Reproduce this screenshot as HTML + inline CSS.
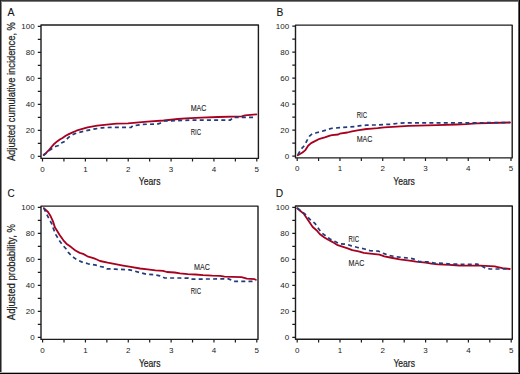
<!DOCTYPE html><html><head><meta charset="utf-8"><style>html,body{margin:0;padding:0;background:#fff;}svg{display:block;}</style></head><body>
<svg width="520" height="374" viewBox="0 0 520 374" font-family='"Liberation Sans", sans-serif'>
<style>text{stroke:#222;stroke-width:0.22px;stroke-linejoin:round;} text.t{stroke:none;} text.l{stroke-width:0.1px;}</style>
<rect x="0" y="0" width="520" height="374" fill="#fff"/>
<g shape-rendering="crispEdges">
<rect x="0" y="0" width="520" height="1" fill="#383838"/>
<rect x="0" y="1" width="520" height="1" fill="#7a7a7a"/>
<rect x="0" y="0" width="1" height="374" fill="#222"/>
<rect x="1" y="1" width="1" height="373" fill="#8a8a8a"/>
<rect x="518" y="0" width="1" height="374" fill="#5a5a5a"/>
<rect x="519" y="0" width="1" height="374" fill="#000"/>
<rect x="0" y="372" width="519" height="1" fill="#b0b0b0"/>
<rect x="0" y="373" width="520" height="1" fill="#000"/>
</g>
<path d="M41.0,158.4 L41.0,25.0 L258.4,25.0 L258.4,158.4 Z" fill="none" stroke="#1c1c1c" stroke-width="1.4" stroke-linejoin="round"/>
<path d="M37.8,156.30H41.0M37.8,143.30H41.0M37.8,130.30H41.0M37.8,117.30H41.0M37.8,104.30H41.0M37.8,91.30H41.0M37.8,78.30H41.0M37.8,65.30H41.0M37.8,52.30H41.0M37.8,39.30H41.0M37.8,26.30H41.0M42.50,158.4V161.6M63.93,158.4V161.6M85.36,158.4V161.6M106.79,158.4V161.6M128.22,158.4V161.6M149.65,158.4V161.6M171.08,158.4V161.6M192.51,158.4V161.6M213.94,158.4V161.6M235.37,158.4V161.6M256.80,158.4V161.6" stroke="#1c1c1c" stroke-width="1.2" fill="none"/>
<text x="34.7" y="159.05" font-size="8.0" text-anchor="end" fill="#222" class="t">0</text>
<text x="34.7" y="133.05" font-size="8.0" text-anchor="end" fill="#222" class="t">20</text>
<text x="34.7" y="107.05" font-size="8.0" text-anchor="end" fill="#222" class="t">40</text>
<text x="34.7" y="81.05" font-size="8.0" text-anchor="end" fill="#222" class="t">60</text>
<text x="34.7" y="55.05" font-size="8.0" text-anchor="end" fill="#222" class="t">80</text>
<text x="34.7" y="29.05" font-size="8.0" text-anchor="end" fill="#222" class="t">100</text>
<text x="42.50" y="171.80" font-size="8.0" text-anchor="middle" fill="#222" class="t">0</text>
<text x="85.36" y="171.80" font-size="8.0" text-anchor="middle" fill="#222" class="t">1</text>
<text x="128.22" y="171.80" font-size="8.0" text-anchor="middle" fill="#222" class="t">2</text>
<text x="171.08" y="171.80" font-size="8.0" text-anchor="middle" fill="#222" class="t">3</text>
<text x="213.94" y="171.80" font-size="8.0" text-anchor="middle" fill="#222" class="t">4</text>
<text x="256.80" y="171.80" font-size="8.0" text-anchor="middle" fill="#222" class="t">5</text>
<text x="149.65" y="185.20" font-size="10.2" text-anchor="middle" fill="#222" textLength="21.6" lengthAdjust="spacingAndGlyphs">Years</text>
<text x="7.6" y="15.7" font-size="11.4" fill="#111" class="l" textLength="7.0" lengthAdjust="spacingAndGlyphs">A</text>
<polyline points="43.6,155.0 46.4,152.6 49.1,149.9 51.8,146.7 54.4,143.7 57.1,141.4 59.8,139.5 62.5,138.0 65.7,135.8 68.3,134.4 72.1,132.6 76.4,130.7 78.0,130.2 87.6,127.3 97.2,125.6 106.8,124.6 116.5,123.7 128.0,123.3 147.2,121.6 163.6,120.5 178.0,119.0 185.7,118.3 201.0,117.6 218.0,117.0 241.7,116.4 245.1,115.3 256.4,114.4" fill="none" stroke="#a8001f" stroke-width="1.8" stroke-linejoin="round" stroke-linecap="round"/>
<polyline points="43.6,155.4 48.0,151.6 50.7,149.4 53.4,147.8 56.0,146.2 58.7,145.5 61.4,143.0 64.6,141.4 66.7,139.3 68.3,137.6 71.0,135.5 74.2,133.9 78.0,132.6 87.6,130.4 95.3,128.8 102.0,127.8 111.7,127.3 130.9,127.5 133.0,125.6 137.6,125.2 142.4,124.3 156.8,124.2 159.7,123.4 164.5,121.0 178.0,120.6 190.0,120.1 229.9,120.2 231.6,119.0 233.3,117.3 254.6,117.3" fill="none" stroke="#203c7a" stroke-width="1.7" stroke-dasharray="4 3.2" stroke-linejoin="round"/>
<text x="190.7" y="111.2" font-size="8.2" fill="#222" class="l" textLength="15.8" lengthAdjust="spacingAndGlyphs">MAC</text>
<text x="190.7" y="135.1" font-size="8.2" fill="#222" class="l" textLength="10.4" lengthAdjust="spacingAndGlyphs">RIC</text>
<text transform="translate(15.2,161.1) rotate(-90)" x="0" y="0" font-size="10.2" fill="#222" textLength="139.0" lengthAdjust="spacingAndGlyphs">Adjusted cumulative incidence, %</text>
<path d="M295.5,157.9 L295.5,25.1 L512.2,25.1 L512.2,157.9 Z" fill="none" stroke="#1c1c1c" stroke-width="1.4" stroke-linejoin="round"/>
<path d="M292.3,156.20H295.5M292.3,143.20H295.5M292.3,130.20H295.5M292.3,117.20H295.5M292.3,104.20H295.5M292.3,91.20H295.5M292.3,78.20H295.5M292.3,65.20H295.5M292.3,52.20H295.5M292.3,39.20H295.5M292.3,26.20H295.5M297.20,157.9V161.1M318.58,157.9V161.1M339.96,157.9V161.1M361.34,157.9V161.1M382.72,157.9V161.1M404.10,157.9V161.1M425.48,157.9V161.1M446.86,157.9V161.1M468.24,157.9V161.1M489.62,157.9V161.1M511.00,157.9V161.1" stroke="#1c1c1c" stroke-width="1.2" fill="none"/>
<text x="289.2" y="158.95" font-size="8.0" text-anchor="end" fill="#222" class="t">0</text>
<text x="289.2" y="132.95" font-size="8.0" text-anchor="end" fill="#222" class="t">20</text>
<text x="289.2" y="106.95" font-size="8.0" text-anchor="end" fill="#222" class="t">40</text>
<text x="289.2" y="80.95" font-size="8.0" text-anchor="end" fill="#222" class="t">60</text>
<text x="289.2" y="54.95" font-size="8.0" text-anchor="end" fill="#222" class="t">80</text>
<text x="289.2" y="28.95" font-size="8.0" text-anchor="end" fill="#222" class="t">100</text>
<text x="297.20" y="171.30" font-size="8.0" text-anchor="middle" fill="#222" class="t">0</text>
<text x="339.96" y="171.30" font-size="8.0" text-anchor="middle" fill="#222" class="t">1</text>
<text x="382.72" y="171.30" font-size="8.0" text-anchor="middle" fill="#222" class="t">2</text>
<text x="425.48" y="171.30" font-size="8.0" text-anchor="middle" fill="#222" class="t">3</text>
<text x="468.24" y="171.30" font-size="8.0" text-anchor="middle" fill="#222" class="t">4</text>
<text x="511.00" y="171.30" font-size="8.0" text-anchor="middle" fill="#222" class="t">5</text>
<text x="404.10" y="185.20" font-size="10.2" text-anchor="middle" fill="#222" textLength="21.6" lengthAdjust="spacingAndGlyphs">Years</text>
<text x="276.6" y="15.8" font-size="11.4" fill="#111" class="l" textLength="6.8" lengthAdjust="spacingAndGlyphs">B</text>
<polyline points="297.8,155.3 300.0,154.0 302.5,152.5 305.1,150.4 308.1,145.7 311.1,143.1 314.5,141.4 319.6,138.8 324.8,137.4 329.9,135.6 332.0,135.2 338.2,134.5 339.7,133.7 347.4,132.5 352.0,131.3 358.9,130.1 366.6,129.0 372.0,128.6 377.6,128.2 384.3,127.4 396.8,126.6 408.4,125.9 418.0,125.6 437.2,125.1 456.5,124.5 466.0,124.1 476.6,123.4 510.0,122.5" fill="none" stroke="#a8001f" stroke-width="1.8" stroke-linejoin="round" stroke-linecap="round"/>
<polyline points="297.8,154.8 300.8,149.5 304.7,145.2 307.2,140.1 309.8,135.8 312.8,133.3 316.2,132.8 322.2,131.3 328.2,129.4 332.0,128.3 339.7,127.7 347.4,127.2 355.1,126.5 360.5,125.6 366.6,125.2 372.0,125.0 377.6,125.0 383.4,124.5 391.0,124.3 396.8,123.5 404.5,122.9 418.0,122.9 466.0,122.9 510.0,122.5" fill="none" stroke="#203c7a" stroke-width="1.7" stroke-dasharray="4 3.2" stroke-linejoin="round"/>
<text x="356.7" y="117.7" font-size="8.2" fill="#222" class="l" textLength="10.4" lengthAdjust="spacingAndGlyphs">RIC</text>
<text x="356.7" y="141.5" font-size="8.2" fill="#222" class="l" textLength="15.8" lengthAdjust="spacingAndGlyphs">MAC</text>
<path d="M41.0,339.4 L41.0,206.1 L258.0,206.1 L258.0,339.4 Z" fill="none" stroke="#1c1c1c" stroke-width="1.4" stroke-linejoin="round"/>
<path d="M37.8,337.30H41.0M37.8,324.30H41.0M37.8,311.30H41.0M37.8,298.30H41.0M37.8,285.30H41.0M37.8,272.30H41.0M37.8,259.30H41.0M37.8,246.30H41.0M37.8,233.30H41.0M37.8,220.30H41.0M37.8,207.30H41.0M42.60,339.4V342.6M64.02,339.4V342.6M85.44,339.4V342.6M106.86,339.4V342.6M128.28,339.4V342.6M149.70,339.4V342.6M171.12,339.4V342.6M192.54,339.4V342.6M213.96,339.4V342.6M235.38,339.4V342.6M256.80,339.4V342.6" stroke="#1c1c1c" stroke-width="1.2" fill="none"/>
<text x="34.7" y="340.05" font-size="8.0" text-anchor="end" fill="#222" class="t">0</text>
<text x="34.7" y="314.05" font-size="8.0" text-anchor="end" fill="#222" class="t">20</text>
<text x="34.7" y="288.05" font-size="8.0" text-anchor="end" fill="#222" class="t">40</text>
<text x="34.7" y="262.05" font-size="8.0" text-anchor="end" fill="#222" class="t">60</text>
<text x="34.7" y="236.05" font-size="8.0" text-anchor="end" fill="#222" class="t">80</text>
<text x="34.7" y="210.05" font-size="8.0" text-anchor="end" fill="#222" class="t">100</text>
<text x="42.60" y="352.80" font-size="8.0" text-anchor="middle" fill="#222" class="t">0</text>
<text x="85.44" y="352.80" font-size="8.0" text-anchor="middle" fill="#222" class="t">1</text>
<text x="128.28" y="352.80" font-size="8.0" text-anchor="middle" fill="#222" class="t">2</text>
<text x="171.12" y="352.80" font-size="8.0" text-anchor="middle" fill="#222" class="t">3</text>
<text x="213.96" y="352.80" font-size="8.0" text-anchor="middle" fill="#222" class="t">4</text>
<text x="256.80" y="352.80" font-size="8.0" text-anchor="middle" fill="#222" class="t">5</text>
<text x="149.70" y="366.60" font-size="10.2" text-anchor="middle" fill="#222" textLength="21.6" lengthAdjust="spacingAndGlyphs">Years</text>
<text x="7.4" y="197.0" font-size="11.4" fill="#111" class="l" textLength="7.2" lengthAdjust="spacingAndGlyphs">C</text>
<polyline points="43.8,208.1 48.0,212.0 50.7,216.3 52.9,221.1 55.0,227.6 57.1,230.8 59.3,234.5 60.0,235.5 63.4,240.3 66.4,243.7 71.1,247.1 75.4,250.5 79.7,252.9 83.1,253.9 87.4,256.3 94.2,258.4 96.8,259.5 100.0,261.0 107.7,262.7 115.4,264.2 123.1,265.6 130.8,266.9 140.0,268.5 147.7,269.3 155.4,270.3 163.1,270.8 166.9,272.0 174.6,272.5 180.0,273.4 187.7,274.1 195.4,274.5 203.1,275.1 212.3,275.6 220.0,275.8 224.6,276.6 241.5,277.2 246.9,278.7 254.6,279.2 255.8,279.8" fill="none" stroke="#a8001f" stroke-width="1.8" stroke-linejoin="round" stroke-linecap="round"/>
<polyline points="43.8,208.1 46.4,213.6 49.1,219.0 51.8,223.8 53.4,228.7 56.1,235.1 59.3,240.4 60.0,241.5 62.6,245.0 66.0,248.8 68.5,252.7 72.8,256.9 77.1,259.9 82.2,262.1 88.2,263.8 95.9,265.1 100.0,266.5 104.6,267.3 106.9,268.8 115.4,269.2 129.2,269.8 133.8,270.8 140.0,272.6 143.1,273.4 146.9,274.3 154.6,274.7 160.0,275.8 162.3,276.6 164.6,278.0 180.0,278.0 188.5,278.2 190.0,279.1 228.5,278.9 231.5,280.2 233.5,281.4 255.8,281.4" fill="none" stroke="#203c7a" stroke-width="1.7" stroke-dasharray="4 3.2" stroke-linejoin="round"/>
<text x="194.0" y="270.2" font-size="8.2" fill="#222" class="l" textLength="15.8" lengthAdjust="spacingAndGlyphs">MAC</text>
<text x="190.7" y="293.9" font-size="8.2" fill="#222" class="l" textLength="10.4" lengthAdjust="spacingAndGlyphs">RIC</text>
<text transform="translate(15.2,320.2) rotate(-90)" x="0" y="0" font-size="10.2" fill="#222" textLength="96.1" lengthAdjust="spacingAndGlyphs">Adjusted probability, %</text>
<path d="M295.5,339.3 L295.5,206.0 L512.3,206.0 L512.3,339.3 Z" fill="none" stroke="#1c1c1c" stroke-width="1.4" stroke-linejoin="round"/>
<path d="M292.3,337.30H295.5M292.3,324.30H295.5M292.3,311.30H295.5M292.3,298.30H295.5M292.3,285.30H295.5M292.3,272.30H295.5M292.3,259.30H295.5M292.3,246.30H295.5M292.3,233.30H295.5M292.3,220.30H295.5M292.3,207.30H295.5M297.20,339.3V342.5M318.60,339.3V342.5M340.00,339.3V342.5M361.40,339.3V342.5M382.80,339.3V342.5M404.20,339.3V342.5M425.60,339.3V342.5M447.00,339.3V342.5M468.40,339.3V342.5M489.80,339.3V342.5M511.20,339.3V342.5" stroke="#1c1c1c" stroke-width="1.2" fill="none"/>
<text x="289.2" y="340.05" font-size="8.0" text-anchor="end" fill="#222" class="t">0</text>
<text x="289.2" y="314.05" font-size="8.0" text-anchor="end" fill="#222" class="t">20</text>
<text x="289.2" y="288.05" font-size="8.0" text-anchor="end" fill="#222" class="t">40</text>
<text x="289.2" y="262.05" font-size="8.0" text-anchor="end" fill="#222" class="t">60</text>
<text x="289.2" y="236.05" font-size="8.0" text-anchor="end" fill="#222" class="t">80</text>
<text x="289.2" y="210.05" font-size="8.0" text-anchor="end" fill="#222" class="t">100</text>
<text x="297.20" y="352.70" font-size="8.0" text-anchor="middle" fill="#222" class="t">0</text>
<text x="340.00" y="352.70" font-size="8.0" text-anchor="middle" fill="#222" class="t">1</text>
<text x="382.80" y="352.70" font-size="8.0" text-anchor="middle" fill="#222" class="t">2</text>
<text x="425.60" y="352.70" font-size="8.0" text-anchor="middle" fill="#222" class="t">3</text>
<text x="468.40" y="352.70" font-size="8.0" text-anchor="middle" fill="#222" class="t">4</text>
<text x="511.20" y="352.70" font-size="8.0" text-anchor="middle" fill="#222" class="t">5</text>
<text x="404.20" y="366.50" font-size="10.2" text-anchor="middle" fill="#222" textLength="21.6" lengthAdjust="spacingAndGlyphs">Years</text>
<text x="275.8" y="196.7" font-size="11.4" fill="#111" class="l" textLength="7.4" lengthAdjust="spacingAndGlyphs">D</text>
<polyline points="297.2,208.3 300.4,211.0 303.6,213.6 305.8,216.8 309.0,221.6 312.7,227.0 316.5,230.2 319.7,234.0 324.0,237.2 328.2,239.8 330.0,240.6 333.8,242.8 337.7,245.2 342.3,246.7 346.9,248.2 352.3,250.2 358.5,251.3 363.8,252.8 368.0,253.3 379.5,254.6 384.3,256.3 390.1,257.5 399.7,259.4 411.3,260.8 416.0,261.7 425.6,262.7 431.4,263.6 438.1,264.4 449.7,264.8 459.3,265.5 466.0,265.6 480.4,265.6 494.8,266.4 497.7,267.1 502.5,268.2 509.8,269.0" fill="none" stroke="#a8001f" stroke-width="1.8" stroke-linejoin="round" stroke-linecap="round"/>
<polyline points="297.2,208.0 301.5,211.3 305.8,214.7 310.0,219.5 314.9,223.3 318.1,228.1 321.8,232.9 326.1,236.1 330.0,239.0 334.6,241.3 339.2,243.6 346.9,244.4 351.5,245.9 358.5,247.7 364.6,249.0 369.9,250.6 378.6,251.2 383.4,253.4 389.2,255.5 395.9,256.7 402.6,257.5 410.3,258.2 415.1,259.4 418.9,261.6 428.5,261.9 434.3,263.1 442.9,263.3 450.6,264.1 466.0,264.3 477.5,264.2 480.4,265.1 485.2,268.0 490.0,269.0 509.8,269.0" fill="none" stroke="#203c7a" stroke-width="1.7" stroke-dasharray="4 3.2" stroke-linejoin="round"/>
<text x="348.6" y="241.9" font-size="8.2" fill="#222" class="l" textLength="10.4" lengthAdjust="spacingAndGlyphs">RIC</text>
<text x="348.6" y="265.8" font-size="8.2" fill="#222" class="l" textLength="15.8" lengthAdjust="spacingAndGlyphs">MAC</text>
</svg></body></html>
